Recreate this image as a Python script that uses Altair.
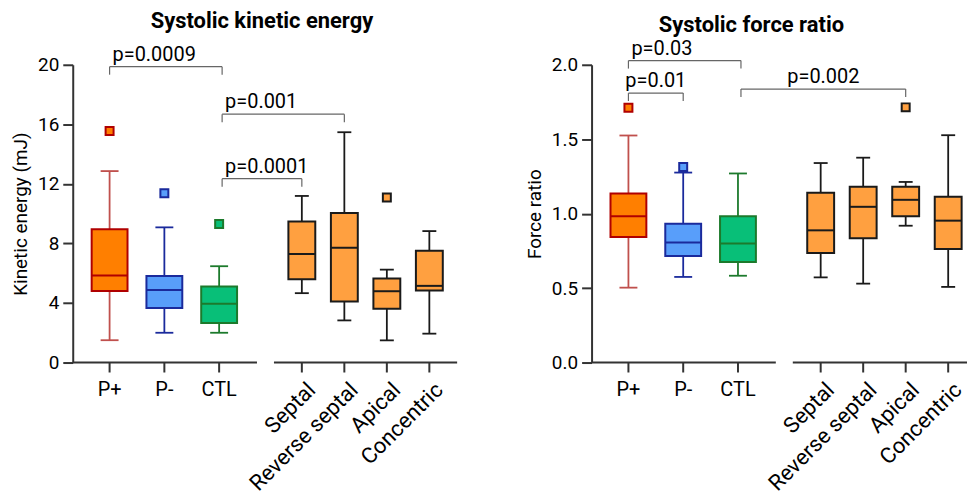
import altair as alt
import pandas as pd

# ---------------- data ----------------
categories = ["P+", "P-", "CTL", "Septal", "Reverse septal", "Apical", "Concentric"]

# Systolic kinetic energy (mJ)
ke_low = [1.5, 2.0, 2.0, 4.66, 2.83, 1.49, 1.94]
ke_q1 = [4.8, 3.66, 2.66, 5.6, 4.1, 3.61, 4.84]
ke_med = [5.84, 4.88, 3.95, 7.29, 7.71, 4.79, 5.15]
ke_q3 = [8.96, 5.82, 5.1, 9.48, 10.05, 5.64, 7.51]
ke_high = [12.86, 9.08, 6.47, 11.19, 15.47, 6.24, 8.83]
ke_out_cat = ["P+", "P-", "CTL", "Apical"]
ke_out_val = [15.55, 11.37, 9.3, 11.08]
ke_p_labels = ["p=0.0009", "p=0.001", "p=0.0001"]
ke_p_from = ["P+", "CTL", "CTL"]
ke_p_to = ["CTL", "Reverse septal", "Septal"]
ke_p_y = [19.87, 16.68, 12.35]

# Systolic force ratio
fr_low = [0.503, 0.575, 0.583, 0.572, 0.53, 0.919, 0.508]
fr_q1 = [0.844, 0.715, 0.675, 0.735, 0.835, 0.982, 0.762]
fr_med = [0.982, 0.806, 0.799, 0.888, 1.046, 1.093, 0.953]
fr_q3 = [1.136, 0.933, 0.982, 1.14, 1.18, 1.18, 1.113]
fr_high = [1.525, 1.276, 1.27, 1.34, 1.376, 1.213, 1.527]
fr_out_cat = ["P+", "P-", "Apical"]
fr_out_val = [1.712, 1.313, 1.714]
fr_p_labels = ["p=0.03", "p=0.01", "p=0.002"]
fr_p_from = ["P+", "P+", "CTL"]
fr_p_to = ["CTL", "P-", "Apical"]
fr_p_y = [2.028, 1.810, 1.837]

# ---------------- layout / style ----------------
FONT = "Roboto"
PX = 55.0            # pixels per x unit
H = 299
XMIN = 0.327
n_main = 3
pos = [1.0, 2.0, 3.0] + [4.51 + i * 0.776 for i in range(4)]
pos_of = dict(zip(categories, pos))
fills = ["#FF7F00", "#589EFA", "#08BF78"] + ["#FFA040"] * 4
edges = ["#B00000", "#1A2A9C", "#1C7A2C"] + ["#1A1A1A"] * 4
whisks = ["#C0504D", "#1A2A9C", "#1C7A2C"] + ["#1A1A1A"] * 4
box_px = [36] * 3 + [27] * 4
cap_px = [18] * 3 + [14] * 4
AXIS_COL = "#333333"


def panel(low, q1, med, q3, high, out_cat, out_val, p_labels, p_from, p_to, p_y,
          p_align, ydom, yvals, yfmt, ytitle, title, title_offset, title_dx, W):
    xmax = XMIN + W / PX
    xs = alt.Scale(domain=[XMIN, xmax], nice=False, zero=False)
    ys = alt.Scale(domain=ydom, nice=False, zero=False)
    yaxis = alt.Axis(values=yvals, format=yfmt, title=ytitle)
    upp = (ydom[1] - ydom[0]) / H  # data units per pixel

    df = pd.DataFrame({
        "cat": categories, "pos": pos, "lo": low, "q1": q1, "med": med,
        "q3": q3, "hi": high, "fill": fills, "edge": edges, "whisk": whisks,
    })
    df["bx1"] = [p - b / 2 / PX for p, b in zip(pos, box_px)]
    df["bx2"] = [p + b / 2 / PX for p, b in zip(pos, box_px)]
    df["cx1"] = [p - c / 2 / PX for p, c in zip(pos, cap_px)]
    df["cx2"] = [p + c / 2 / PX for p, c in zip(pos, cap_px)]
    df["lx"] = [p + 10 / PX for p in pos]
    df["grp"] = ["main"] * n_main + ["sub"] * (len(categories) - n_main)

    base = alt.Chart(df)
    whisker = base.mark_rule(strokeWidth=1.8).encode(
        x=alt.X("pos:Q", scale=xs, axis=None),
        y=alt.Y("lo:Q", scale=ys, axis=yaxis), y2="hi:Q",
        color=alt.Color("whisk:N", scale=None))
    cap_lo = base.mark_rule(strokeWidth=1.8).encode(
        x=alt.X("cx1:Q", scale=xs, axis=None), x2="cx2:Q",
        y=alt.Y("lo:Q", scale=ys, axis=yaxis),
        color=alt.Color("whisk:N", scale=None))
    cap_hi = base.mark_rule(strokeWidth=1.8).encode(
        x=alt.X("cx1:Q", scale=xs, axis=None), x2="cx2:Q",
        y=alt.Y("hi:Q", scale=ys, axis=yaxis),
        color=alt.Color("whisk:N", scale=None))
    box = base.mark_rect(strokeWidth=2).encode(
        x=alt.X("bx1:Q", scale=xs, axis=None), x2="bx2:Q",
        y=alt.Y("q1:Q", scale=ys, axis=yaxis), y2="q3:Q",
        fill=alt.Fill("fill:N", scale=None),
        stroke=alt.Stroke("edge:N", scale=None))
    median = base.mark_rule(strokeWidth=2).encode(
        x=alt.X("bx1:Q", scale=xs, axis=None), x2="bx2:Q",
        y=alt.Y("med:Q", scale=ys, axis=yaxis),
        color=alt.Color("edge:N", scale=None))

    idx = [categories.index(c) for c in out_cat]
    odf = pd.DataFrame({
        "pos": [pos[i] for i in idx], "val": out_val,
        "fill": [fills[i] for i in idx], "edge": [edges[i] for i in idx],
    })
    outliers = alt.Chart(odf).mark_square(size=64, strokeWidth=2, opacity=1).encode(
        x=alt.X("pos:Q", scale=xs, axis=None),
        y=alt.Y("val:Q", scale=ys, axis=yaxis),
        fill=alt.Fill("fill:N", scale=None),
        stroke=alt.Stroke("edge:N", scale=None))

    # brackets
    def bx(c):
        return pos_of[c] + (3 / PX if c == "CTL" else 0)
    bdf = pd.DataFrame({
        "label": p_labels,
        "x1": [bx(c) for c in p_from], "x2": [bx(c) for c in p_to],
        "y": p_y, "align": p_align,
    })
    bdf["yleg"] = bdf["y"] - 8 * upp
    bdf["tx"] = [x1 + 3 / PX if a == "left" else (x1 + x2) / 2
                 for x1, x2, a in zip(bdf["x1"], bdf["x2"], bdf["align"])]
    bbase = alt.Chart(bdf)
    bcol = "#666666"
    bh = bbase.mark_rule(strokeWidth=1.2, color=bcol).encode(
        x=alt.X("x1:Q", scale=xs, axis=None), x2="x2:Q",
        y=alt.Y("y:Q", scale=ys, axis=yaxis))
    bl = bbase.mark_rule(strokeWidth=1.2, color=bcol).encode(
        x=alt.X("x1:Q", scale=xs, axis=None),
        y=alt.Y("y:Q", scale=ys, axis=yaxis), y2="yleg:Q")
    br = bbase.mark_rule(strokeWidth=1.2, color=bcol).encode(
        x=alt.X("x2:Q", scale=xs, axis=None),
        y=alt.Y("y:Q", scale=ys, axis=yaxis), y2="yleg:Q")
    tl = bbase.transform_filter(alt.datum.align == "left").mark_text(
        align="left", baseline="alphabetic", dy=-6, fontSize=20, font=FONT,
        color="black").encode(
        x=alt.X("tx:Q", scale=xs, axis=None),
        y=alt.Y("y:Q", scale=ys, axis=yaxis), text="label:N")
    tc = bbase.transform_filter(alt.datum.align == "center").mark_text(
        align="center", baseline="alphabetic", dy=-6, fontSize=20, font=FONT,
        color="black").encode(
        x=alt.X("tx:Q", scale=xs, axis=None),
        y=alt.Y("y:Q", scale=ys, axis=yaxis), text="label:N")

    # broken x axis
    sdf = pd.DataFrame({
        "s1": [XMIN, pos[n_main] - 28 / PX],
        "s2": [pos[n_main - 1] + 38 / PX, xmax],
    })
    segs = alt.Chart(sdf).mark_rule(strokeWidth=2, color=AXIS_COL).encode(
        x=alt.X("s1:Q", scale=xs, axis=None), x2="s2:Q", y=alt.value(H))
    ticks = base.mark_rule(strokeWidth=2, color=AXIS_COL).encode(
        x=alt.X("pos:Q", scale=xs, axis=None), y=alt.value(H), y2=alt.value(H + 10))
    lab_main = base.transform_filter(alt.datum.grp == "main").mark_text(
        align="center", baseline="alphabetic", fontSize=20, font=FONT,
        color="black").encode(
        x=alt.X("pos:Q", scale=xs, axis=None), y=alt.value(H + 34), text="cat:N")
    lab_sub = base.transform_filter(alt.datum.grp == "sub").mark_text(
        align="right", baseline="middle", angle=315, fontSize=22, font=FONT,
        color="black").encode(
        x=alt.X("lx:Q", scale=xs, axis=None), y=alt.value(H + 24), text="cat:N")

    return alt.layer(
        whisker, cap_lo, cap_hi, box, median, outliers,
        bh, bl, br, tl, tc, segs, ticks, lab_main, lab_sub,
    ).properties(
        width=W, height=H,
        title=alt.TitleParams(title, fontSize=22, fontWeight="bold", font=FONT,
                              anchor="middle", frame="group",
                              offset=title_offset, dx=title_dx, color="black"),
    )


left = panel(ke_low, ke_q1, ke_med, ke_q3, ke_high, ke_out_cat, ke_out_val,
             ke_p_labels, ke_p_from, ke_p_to, ke_p_y, ["left", "left", "left"],
             [0, 20], [0, 4, 8, 12, 16, 20], "d", "Kinetic energy (mJ)",
             "Systolic kinetic energy", 12, -3, 386)
right = panel(fr_low, fr_q1, fr_med, fr_q3, fr_high, fr_out_cat, fr_out_val,
              fr_p_labels, fr_p_from, fr_p_to, fr_p_y, ["left", "center", "center"],
              [0, 2], [0, 0.5, 1.0, 1.5, 2.0], ".1f", "Force ratio",
              "Systolic force ratio", 2, -28, 377)

chart = alt.hconcat(left, right, spacing=67).properties(
    padding={"left": 3, "top": 0, "right": 0, "bottom": 0}
).configure_view(stroke=None).configure_axis(
    grid=False, domainColor=AXIS_COL, domainWidth=2, tickColor=AXIS_COL,
    tickWidth=2, tickSize=10, labelFontSize=19, labelFont=FONT,
    labelColor="black", labelPadding=4, titleFontSize=19, titleFont=FONT,
    titleFontWeight="normal", titleColor="black", titlePadding=7,
)

chart.save("out.html", embed_options={"renderer": "svg", "actions": False})
